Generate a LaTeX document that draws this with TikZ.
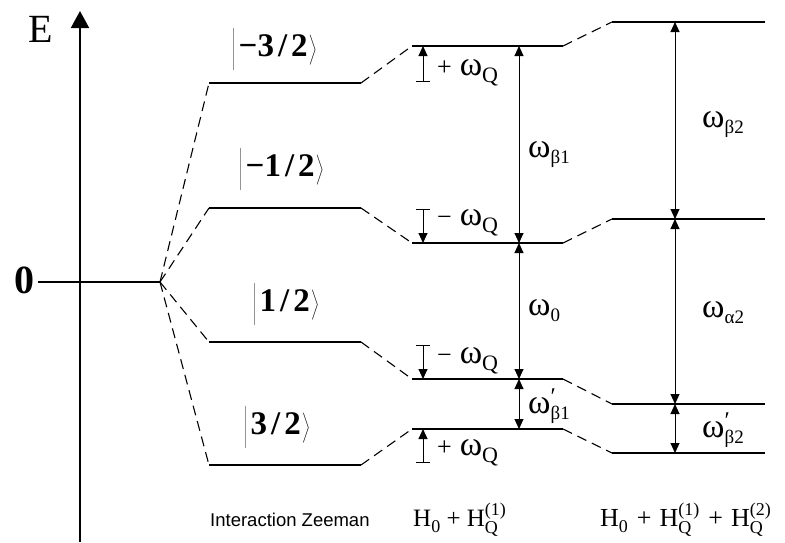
\documentclass[tikz,border=0pt]{standalone}
\usepackage{fontspec}
\setmainfont{Liberation Serif}
\newfontfamily\arialf{Liberation Sans}
\usetikzlibrary{arrows.meta}
\newcommand{\om}{{\fontsize{34}{34}\selectfont ω}}
\newcommand{\lsub}[1]{\raisebox{-6pt}{\fontsize{19}{19}\selectfont #1}}
\newcommand{\omQ}{\om\raisebox{-7pt}{\fontsize{22}{22}\selectfont Q}}
\newcommand{\prm}{\rlap{\raisebox{9pt}{\fontsize{24}{24}\selectfont ′}}}
\newcommand{\ketl}[1]{\(\left|\vrule height 27pt depth 12pt width 0pt\right.\)\hspace{2pt}\textbf{#1}\(\left.\vrule height 27pt depth 12pt width 0pt\right\rangle\)}
\newcommand{\sep}{\hspace{4pt}/\hspace{4pt}}
\newcommand{\HQ}[1]{H\rlap{\raisebox{-7pt}{\fontsize{18}{18}\selectfont Q}}\raisebox{11pt}{\fontsize{18}{18}\selectfont (#1)}}
\newcommand{\Hz}{H\raisebox{-6pt}{\fontsize{18}{18}\selectfont 0}}
\begin{document}
\begin{tikzpicture}[x=1pt,y=-1pt,
  lvl/.style={line width=2.4pt},
  conn/.style={line width=1.1pt, dash pattern=on 10pt off 6pt},
  gap/.style={line width=1pt, {Triangle[length=10pt,width=9pt]}-{Triangle[length=10pt,width=9pt]}},
  qarr/.style={line width=1pt, {Bar[width=14pt]}-{Triangle[length=10pt,width=9pt]}},
  lab/.style={inner sep=0pt, anchor=base west},
  txt/.style={font=\fontsize{26}{26}\selectfont},
  kett/.style={inner sep=0pt, anchor=base west, font=\fontsize{33}{33}\selectfont},
  capt/.style={inner sep=0pt, anchor=base west, font=\fontsize{25}{25}\selectfont}]
\useasboundingbox (0,0) rectangle (785,542);
% axis
\coordinate (axb) at (80,542);
\coordinate (axt) at (80,11);
\draw[line width=2pt, -{Triangle[length=17pt,width=18pt]}] (axb) -- (axt);
\node[inner sep=0pt, anchor=base, font=\fontsize{40}{40}\selectfont] (Elab) at (41,42) {E};
\node[inner sep=0pt, anchor=base, font=\fontsize{40}{40}\selectfont\bfseries] (zlab) at (24,293) {0};
% zero level
\coordinate (z0) at (38,282);
\coordinate (z1) at (160,282);
\draw[lvl] (z0) -- (z1);
% column 1 (Zeeman)
\coordinate (m3l) at (209,83);  \coordinate (m3r) at (361,83);
\coordinate (m1l) at (209,208); \coordinate (m1r) at (361,208);
\coordinate (p1l) at (209,342); \coordinate (p1r) at (361,342);
\coordinate (p3l) at (209,465); \coordinate (p3r) at (361,465);
% column 2
\coordinate (Al) at (412,46);  \coordinate (Ar) at (563,46);
\coordinate (Bl) at (412,243); \coordinate (Br) at (563,243);
\coordinate (Cl) at (412,379); \coordinate (Cr) at (563,379);
\coordinate (Dl) at (412,429); \coordinate (Dr) at (563,429);
% column 3
\coordinate (El) at (612,22);  \coordinate (Er) at (765,22);
\coordinate (Fl) at (612,219); \coordinate (Fr) at (765,219);
\coordinate (Gl) at (612,404); \coordinate (Gr) at (765,404);
\coordinate (Hl) at (612,453); \coordinate (Hr) at (765,453);
% levels
\foreach \a/\b in {m3l/m3r,m1l/m1r,p1l/p1r,p3l/p3r,Al/Ar,Bl/Br,Cl/Cr,Dl/Dr,El/Er,Fl/Fr,Gl/Gr,Hl/Hr}
  \draw[lvl] (\a) -- (\b);
% dashed connectors
\foreach \b in {m3l,m1l,p1l,p3l} \draw[conn] (z1) -- (\b);
\foreach \a/\b in {m3r/Al,m1r/Bl,p1r/Cl,p3r/Dl,Ar/El,Br/Fl,Cr/Gl,Dr/Hl}
  \draw[conn] (\a) -- (\b);
% kets
\node[kett] (k1) at (232,56) {\ketl{−3\sep 2}};
\node[kett] (k2) at (239,176) {\ketl{−1\sep 2}};
\node[kett] (k3) at (253,311) {\ketl{1\sep 2}};
\node[kett] (k4) at (244,434) {\ketl{3\sep 2}};
% small quadrupole shifts
\coordinate (qa0) at (423,82);  \coordinate (qa1) at (423,46);
\coordinate (qb0) at (423,209); \coordinate (qb1) at (423,243);
\coordinate (qc0) at (423,345); \coordinate (qc1) at (423,379);
\coordinate (qd0) at (423,463); \coordinate (qd1) at (423,429);
\draw[qarr] (qa0) -- (qa1);
\draw[qarr] (qb0) -- (qb1);
\draw[qarr] (qc0) -- (qc1);
\draw[qarr] (qd0) -- (qd1);
\node[lab, txt] (qal) at (437,75) {+\hspace{8pt}\omQ};
\node[lab, txt] (qbl) at (437,225) {−\hspace{8pt}\omQ};
\node[lab, txt] (qcl) at (437,363) {−\hspace{8pt}\omQ};
\node[lab, txt] (qdl) at (437,455) {+\hspace{8pt}\omQ};
% transition arrows col 2
\coordinate (gA) at (519,46);  \coordinate (gB) at (519,243);
\coordinate (gC) at (519,379); \coordinate (gD) at (519,429);
\draw[gap] (gA) -- (gB);
\draw[gap] (gB) -- (gC);
\draw[gap] (gC) -- (gD);
\node[lab] (lb1) at (528,157) {\om\lsub{β1}};
\node[lab] (lw0) at (528,315) {\om\lsub{0}};
\node[lab] (lb1p) at (528,413) {\om\prm\lsub{β1}};
% transition arrows col 3
\coordinate (gE) at (675,22);  \coordinate (gF) at (675,219);
\coordinate (gG) at (675,404); \coordinate (gH) at (675,453);
\draw[gap] (gE) -- (gF);
\draw[gap] (gF) -- (gG);
\draw[gap] (gG) -- (gH);
\node[lab] (lb2) at (702,127) {\om\lsub{β2}};
\node[lab] (la2) at (702,317) {\om\lsub{α2}};
\node[lab] (lb2p) at (702,437) {\om\prm\lsub{β2}};
% bottom captions
\node[lab, font=\arialf\fontsize{18.5}{18.5}\selectfont] (c1) at (210,526) {Interaction Zeeman};
\node[capt] (c2) at (413,526) {\Hz\ +\ \HQ{1}};
\node[capt, font=\fontsize{26}{26}\selectfont] (c3) at (600,526) {\Hz\hspace{9pt}+\hspace{8pt}\HQ{1}\hspace{9pt}+\hspace{8pt}\HQ{2}};
\end{tikzpicture}
\end{document}
